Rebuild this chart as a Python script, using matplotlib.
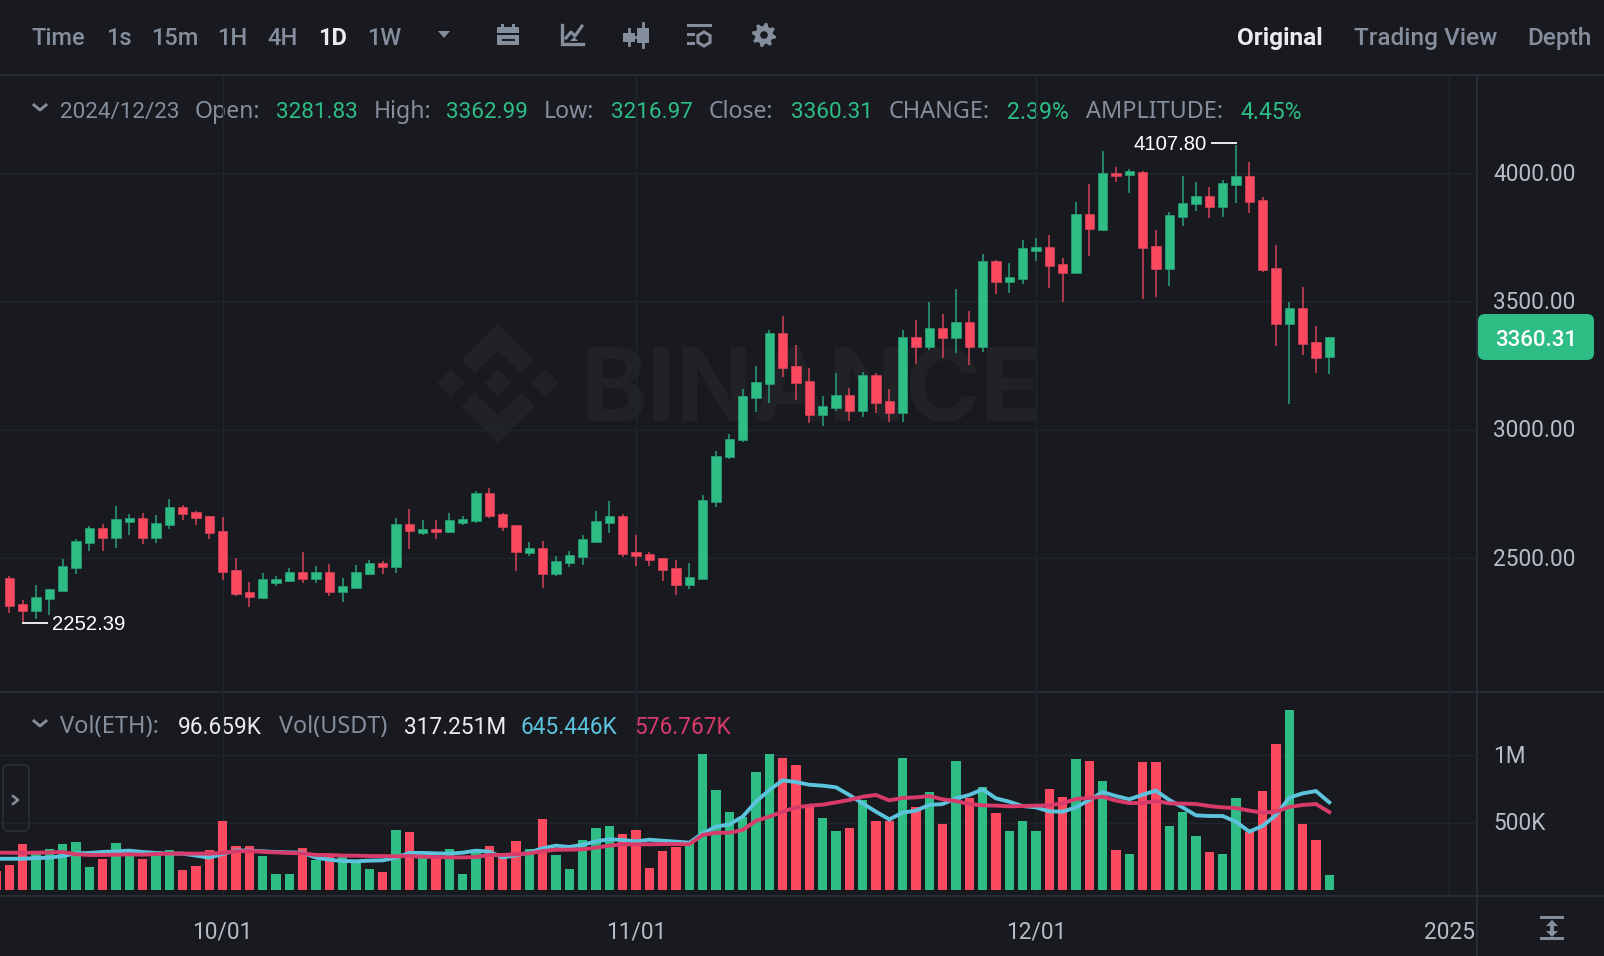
import numpy as np
import matplotlib
matplotlib.use("Agg")
import matplotlib.pyplot as plt
from matplotlib.patches import Rectangle, Polygon, FancyBboxPatch, Circle
from matplotlib.transforms import ScaledTranslation

# Candles, one per day, the last one is 2024/12/23
opens = [2422, 2321, 2292, 2339, 2371, 2462, 2558, 2617, 2578, 2642,
         2657, 2577, 2629, 2699, 2679, 2662, 2607, 2452, 2368, 2345,
         2404, 2410, 2444, 2419, 2445, 2368, 2384, 2436, 2481, 2466,
         2634, 2599, 2615, 2603, 2636, 2644, 2752, 2671, 2627, 2521,
         2540, 2438, 2479, 2504, 2564, 2635, 2664, 2523, 2516, 2499,
         2462, 2395, 2419, 2719, 2892, 2958, 3122, 3179, 3375, 3247,
         3190, 3056, 3086, 3136, 3073, 3212, 3110, 3066, 3360, 3323,
         3397, 3358, 3418, 3322, 3656, 3574, 3588, 3695, 3710, 3647,
         3610, 3840, 3779, 4001, 3992, 4006, 3714, 3625, 3827, 3878,
         3909, 3866, 3955, 3988, 3896, 3629, 3413, 3475, 3343, 3281.83]
highs = [2431, 2336, 2395, 2379, 2496, 2574, 2625, 2632, 2704, 2671,
         2674, 2668, 2730, 2707, 2684, 2664, 2660, 2500, 2405, 2443,
         2430, 2460, 2523, 2469, 2475, 2422, 2473, 2492, 2487, 2656,
         2690, 2648, 2648, 2677, 2664, 2760, 2771, 2674, 2629, 2564,
         2567, 2508, 2529, 2590, 2683, 2723, 2670, 2588, 2523, 2500,
         2492, 2480, 2744, 2916, 2982, 3157, 3248, 3387, 3442, 3330,
         3239, 3130, 3219, 3161, 3223, 3219, 3158, 3387, 3426, 3497,
         3449, 3547, 3461, 3684, 3661, 3648, 3738, 3747, 3760, 3669,
         3887, 3956, 4087, 4022, 4014, 4008, 3780, 3848, 3987, 3967,
         3944, 3973, 4107.80, 4042, 3905, 3719, 3496, 3555, 3403, 3362.99]
lows = [2284, 2252.39, 2264, 2278, 2371, 2438, 2529, 2526, 2539, 2591,
        2555, 2560, 2614, 2649, 2629, 2575, 2414, 2352, 2309, 2339,
        2391, 2408, 2403, 2401, 2352, 2330, 2383, 2434, 2436, 2443,
        2536, 2588, 2575, 2596, 2630, 2636, 2655, 2606, 2451, 2508,
        2383, 2430, 2464, 2471, 2562, 2599, 2503, 2469, 2469, 2412,
        2357, 2380, 2419, 2700, 2886, 2953, 3069, 3105, 3206, 3116,
        3027, 3014, 3071, 3035, 3049, 3065, 3029, 3031, 3256, 3312,
        3281, 3299, 3252, 3301, 3529, 3534, 3567, 3658, 3553, 3499,
        3610, 3677, 3775, 3966, 3923, 3508, 3516, 3561, 3795, 3852,
        3823, 3830, 3883, 3845, 3616, 3326, 3100, 3292, 3221, 3216.97]
closes = [2313, 2292, 2347, 2379, 2470, 2566, 2617, 2578, 2651, 2657,
          2577, 2636, 2699, 2673, 2655, 2599, 2444, 2361, 2347, 2418,
          2419, 2444, 2419, 2445, 2368, 2391, 2444, 2481, 2466, 2634,
          2604, 2615, 2600, 2647, 2652, 2752, 2664, 2619, 2522, 2540,
          2438, 2487, 2512, 2573, 2643, 2664, 2516, 2508, 2491, 2454,
          2395, 2427, 2726, 2899, 2965, 3130, 3187, 3375, 3240, 3183,
          3056, 3093, 3136, 3073, 3212, 3104, 3066, 3360, 3323, 3397,
          3358, 3418, 3322, 3656, 3574, 3595, 3706, 3710, 3639, 3610,
          3840, 3782, 4001, 3987, 4008, 3708, 3625, 3835, 3884, 3909,
          3866, 3961, 3988, 3888, 3622, 3413, 3475, 3335, 3278, 3360.31]

# Volume starts one day earlier, that bar is cut by the left edge
volumes = [141, 188, 341, 267, 304, 339, 354, 168, 228, 346, 297,
           232, 289, 294, 151, 176, 294, 514, 329, 326, 255,
           119, 121, 312, 223, 267, 270, 223, 153, 134, 448,
           428, 247, 235, 304, 119, 284, 324, 247, 364, 304,
           524, 262, 153, 373, 462, 472, 413, 443, 161, 287,
           321, 346, 1009, 739, 579, 544, 873, 1007, 979, 925,
           618, 532, 435, 460, 668, 509, 514, 982, 613, 730,
           490, 957, 680, 762, 571, 438, 514, 440, 747, 687,
           974, 955, 811, 297, 265, 947, 950, 472, 581, 401,
           279, 267, 683, 433, 732, 1083, 1335, 487, 373, 111]
ma5 = [232, 232, 232, 237, 240, 252, 272, 275, 282, 287, 292,
       282, 275, 270, 270, 255, 240, 267, 294, 292, 287,
       282, 279, 277, 240, 225, 215, 213, 218, 220, 240,
       275, 275, 272, 270, 277, 292, 284, 242, 257, 279,
       309, 329, 319, 336, 361, 376, 371, 361, 373, 366,
       359, 351, 420, 470, 487, 544, 655, 742, 814, 801,
       781, 774, 762, 705, 643, 581, 524, 574, 589, 631,
       638, 680, 705, 747, 680, 655, 623, 613, 584, 581,
       613, 668, 727, 697, 673, 707, 737, 668, 613, 554,
       549, 549, 507, 433, 475, 556, 685, 717, 734, 650]
ma10 = [277, 277, 275, 277, 279, 282, 265, 260, 260, 262, 265,
        262, 267, 270, 270, 270, 270, 275, 287, 289, 284,
        279, 275, 272, 260, 260, 255, 255, 252, 252, 250,
        252, 247, 245, 242, 242, 245, 260, 260, 265, 272,
        289, 299, 299, 302, 314, 329, 339, 339, 339, 341,
        341, 339, 408, 425, 425, 445, 514, 544, 581, 613,
        626, 633, 650, 668, 692, 705, 665, 683, 687, 697,
        673, 660, 638, 628, 626, 621, 623, 626, 628, 643,
        675, 683, 692, 663, 645, 645, 660, 643, 641, 638,
        623, 613, 608, 589, 574, 581, 616, 631, 638, 578]

price_ticks = [2500, 3000, 3500, 4000]
price_labels = ["2500.00", "3000.00", "3500.00", "4000.00"]
vol_ticks = [500, 1000]
vol_labels = ["500K", "1M"]
date_ticks = [16, 47, 77, 108]
date_labels = ["10/01", "11/01", "12/01", "2025"]

W, H = 1604, 956
BG = "#181a20"
GRID = "#20262b"
LINE = "#2b3139"
GRAY = "#848e9c"
WHITE = "#eaecef"
GREEN = "#2ebd85"
RED = "#fb4a5f"
GREEN_W = "#2aa079"
RED_W = "#d8415a"
BLUE = "#5cc3dc"
PINK = "#d83a6a"
FONT = ["Roboto", "DejaVu Sans"]
NOTO = ["Noto Sans", "DejaVu Sans"]
ARIAL = ["Liberation Sans", "DejaVu Sans"]

plt.rcParams["font.family"] = FONT

fig = plt.figure(figsize=(W / 100, H / 100), dpi=100, facecolor=BG)


def px_axes(left, top, right, bottom):
    return fig.add_axes([left / W, 1 - bottom / H, (right - left) / W, (bottom - top) / H])


# Full figure layer in pixels for the toolbar, watermark and legends
ui = px_axes(0, 0, W, H)
ui.set_xlim(0, W)
ui.set_ylim(H, 0)
ui.axis("off")
ui.set_zorder(0)

# Watermark
cx, cy = 498, 383
wm = "#202226"
chev = np.array([[0, -60], [36.6, -23.3], [23.1, -9.3], [0, -32.3], [-23.1, -9.3], [-36.6, -23.3]])
ui.add_patch(Polygon(chev + [cx, cy], fc=wm, ec="none"))
ui.add_patch(Polygon(chev * [1, -1] + [cx, cy], fc=wm, ec="none"))
diamond = np.array([[0, -13.5], [13.5, 0], [0, 13.5], [-13.5, 0]])
for dx in [-47, 0, 47]:
    ui.add_patch(Polygon(diamond + [cx + dx, cy], fc=wm, ec="none"))
ui.text(580, 384, "BINANCE", color=wm, fontsize=73, fontweight="bold", family=["Inter", "DejaVu Sans"],
        va="center_baseline", ha="left")

# Price panel
xlim = (-0.7, 110.08)
ax = px_axes(0, 75, 1477, 692)
ax.set_xlim(*xlim)
ax.set_ylim(1978, 4382)
vax = px_axes(0, 692, 1477, 895)
vax.set_xlim(*xlim)
vax.set_ylim(-37, 1469)

for a in [ax, vax]:
    a.set_facecolor("none")
    a.set_zorder(1)
    for s in a.spines.values():
        s.set_visible(False)
    a.yaxis.tick_right()
    a.set_xticks(date_ticks)
    a.grid(True, color=GRID, lw=1.0)
    a.set_axisbelow(True)
    a.tick_params(length=0, labelcolor="#b7bdc6", labelsize=16.3)

ax.set_xticklabels([])
ax.set_yticks(price_ticks)
ax.set_yticklabels(price_labels)
ax.tick_params(axis="y", pad=11.6)
vax.set_yticks(vol_ticks)
vax.set_yticklabels(vol_labels)
vax.tick_params(axis="y", pad=11.6)
vax.set_xticklabels(date_labels)
vax.tick_params(axis="x", pad=18.7)

# tick labels sit a bit higher than the grid lines, they are label2 on the right side
lift = ScaledTranslation(0, 1.5 / 100, fig.dpi_scale_trans)
for a in [ax, vax]:
    for t in a.yaxis.get_major_ticks():
        t.label2.set_transform(t.label2.get_transform() + lift)

opens = np.array(opens)
closes = np.array(closes)
idx = np.arange(len(opens))
up = closes >= opens
ax.vlines(idx, lows, highs, colors=[GREEN_W if u else RED_W for u in up], lw=1.1, zorder=2)
ax.bar(idx, np.abs(closes - opens), bottom=np.minimum(opens, closes), width=0.69,
       color=[GREEN if u else RED for u in up],
       edgecolor=[GREEN_W if u else RED_W for u in up], lw=0.5, zorder=3)

# High and low markers
i_hi = int(np.argmax(highs))
i_lo = int(np.argmin(lows))
ax.plot([i_hi - 1.8, i_hi], [highs[i_hi] + 8, highs[i_hi] + 8], color=WHITE, lw=1.4, zorder=4)
ax.text(i_hi - 2.2, highs[i_hi] + 3, f"{highs[i_hi]:.2f}", color="white", fontsize=14.6,
        family=ARIAL, ha="right", va="center", zorder=4)
ax.plot([i_lo, i_lo + 1.8], [lows[i_lo] - 5, lows[i_lo] - 5], color=WHITE, lw=1.4, zorder=4)
ax.text(i_lo + 2.2, lows[i_lo] - 13, f"{lows[i_lo]:.2f}", color="white", fontsize=14.6,
        family=ARIAL, ha="left", va="center", zorder=4)

# Volume panel
vol_x = np.arange(-1, len(opens))
vol_up = np.concatenate([[False], up])
vax.bar(vol_x, volumes, width=0.7, color=[GREEN if u else RED for u in vol_up], lw=0, zorder=2)
vax.plot(vol_x, ma5, color=BLUE, lw=2.8, zorder=3, solid_joinstyle="miter")
vax.plot(vol_x, ma10, color=PINK, lw=2.8, zorder=4, solid_joinstyle="miter")

# Divider lines
for y in [75, 692, 896]:
    ui.plot([0, W], [y, y], color=LINE, lw=1.2, zorder=5)
ui.plot([1477, 1477], [75, H], color=LINE, lw=1.2, zorder=5)

# Toolbar
tabs = [(32, "Time", GRAY), (106, "1s", GRAY), (151, "15m", GRAY), (217, "1H", GRAY),
        (267, "4H", GRAY), (318, "1D", WHITE), (367, "1W", GRAY)]
for x, s, c in tabs:
    ui.text(x, 38, s, color=c, fontsize=17, va="center", ha="left", fontweight="bold" if s == "1D" else "medium")
for x, s, c in [(1237, "Original", WHITE), (1354, "Trading View", GRAY), (1527, "Depth", GRAY)]:
    ui.text(x, 38, s, color=c, fontsize=17.6, va="center", ha="left", fontweight="bold" if s == "Original" else "medium")

# Small icons
ui.add_patch(Polygon([[438, 31], [450, 31], [444, 38]], fc=GRAY, ec="none"))

ui.add_patch(Rectangle((497, 27), 22, 6, fc=GRAY, ec="none"))
ui.add_patch(Rectangle((501, 24), 3, 4, fc=GRAY, ec="none"))
ui.add_patch(Rectangle((512, 24), 3, 4, fc=GRAY, ec="none"))
ui.add_patch(Rectangle((497, 35), 22, 10, fc=GRAY, ec="none"))
ui.plot([503, 514], [40, 40], color=BG, lw=1.4)

ui.plot([562, 562, 583], [25, 44, 44], color=GRAY, lw=2.4, solid_joinstyle="miter")
ui.plot([566, 571, 575, 582], [38, 32, 36, 26], color=GRAY, lw=2.2)
ui.add_patch(Polygon([[570, 41], [578, 41], [574, 37]], fc=GRAY, ec="none"))

for x, t, b, wt, wb in [(629, 33, 42, 29, 45), (643, 28, 43, 23, 47)]:
    ui.add_patch(Rectangle((x - 6, t), 12, b - t, fc=GRAY, ec="none"))
    ui.plot([x, x], [wt, wb], color=GRAY, lw=2)
ui.plot([635, 637], [37, 37], color=GRAY, lw=2)

ui.add_patch(Rectangle((687, 24), 25, 3, fc=GRAY, ec="none"))
ui.add_patch(Rectangle((687, 33), 8, 3, fc=GRAY, ec="none"))
ui.add_patch(Rectangle((687, 42), 8, 3, fc=GRAY, ec="none"))
ang = np.arange(6) * np.pi / 3 + np.pi / 6
ui.add_patch(Polygon(np.c_[704 + 7 * np.cos(ang), 39 + 7 * np.sin(ang)], fc=BG, ec=GRAY, lw=2.2))

teeth = np.linspace(0, 2 * np.pi, 32, endpoint=False)
gear_r = np.where((np.arange(32) % 4) < 2, 12.2, 9)
ui.add_patch(Polygon(np.c_[764 + gear_r * np.cos(teeth + 0.1), 35 + gear_r * np.sin(teeth + 0.1)], fc=GRAY, ec="none"))
ui.add_patch(Circle((764, 35), 3.8, fc=BG, ec="none"))

# Candle info row
info = [(60, "2024/12/23", GRAY, FONT, 16.2), (195, "Open:", GRAY, NOTO, 16.6), (276, "3281.83", GREEN, FONT, 16.2),
        (374, "High:", GRAY, NOTO, 16.6), (446, "3362.99", GREEN, FONT, 16.2), (544, "Low:", GRAY, NOTO, 16.6),
        (611, "3216.97", GREEN, FONT, 16.2), (709, "Close:", GRAY, NOTO, 16.6), (791, "3360.31", GREEN, FONT, 16.2),
        (889, "CHANGE:", GRAY, NOTO, 16.9), (1007, "2.39%", GREEN, FONT, 16.6), (1086, "AMPLITUDE:", GRAY, NOTO, 16.9),
        (1240, "4.45%", GREEN, FONT, 16.6)]
for x, s, c, fam, size in info:
    ui.text(x, 112, s, color=c, fontsize=size, va="center", ha="left", family=fam)

# Volume legend row
legend = [(60, "Vol(ETH):", GRAY, NOTO, 17), (178, "96.659K", WHITE, FONT, 16.3), (279, "Vol(USDT)", GRAY, NOTO, 16.8),
          (404, "317.251M", WHITE, FONT, 16.3), (521, "645.446K", BLUE, FONT, 16.3), (634, "576.767K", PINK, FONT, 16.3)]
for x, s, c, fam, size in legend:
    ui.text(x, 727, s, color=c, fontsize=size, va="center", ha="left", family=fam)

for y in [105, 721]:
    ui.plot([34, 40, 46], [y, y + 5, y], color=GRAY, lw=2.1)

# Side panel handle and chevron
ui.add_patch(FancyBboxPatch((3, 765), 26, 66, boxstyle="round,pad=0,rounding_size=6", fc=BG, ec=LINE, lw=1.2, zorder=6))
ui.plot([13, 18, 13], [796, 800, 804], color=GRAY, lw=1.8, zorder=7)
ui.set_zorder(0)

# Top layer for the last price badge and expand icon
top = px_axes(0, 0, W, H)
top.set_xlim(0, W)
top.set_ylim(H, 0)
top.axis("off")
top.set_zorder(2)
top.add_patch(FancyBboxPatch((1478, 314), 116, 46, boxstyle="round,pad=0,rounding_size=7", fc=GREEN, ec="none"))
top.text(1536, 340.5, "3360.31", color="white", fontsize=16, fontweight="medium", ha="center", va="center")
top.add_patch(Rectangle((1540, 916), 24, 3.4, fc=GRAY, ec="none"))
top.add_patch(Rectangle((1540, 937), 24, 3.4, fc=GRAY, ec="none"))
top.add_patch(Polygon([[1552, 920], [1558, 926], [1554, 926], [1554, 931], [1558, 931], [1552, 937],
                       [1546, 931], [1550, 931], [1550, 926], [1546, 926]], fc=GRAY, ec="none"))

fig.savefig("out.png", dpi=100, facecolor=BG)
